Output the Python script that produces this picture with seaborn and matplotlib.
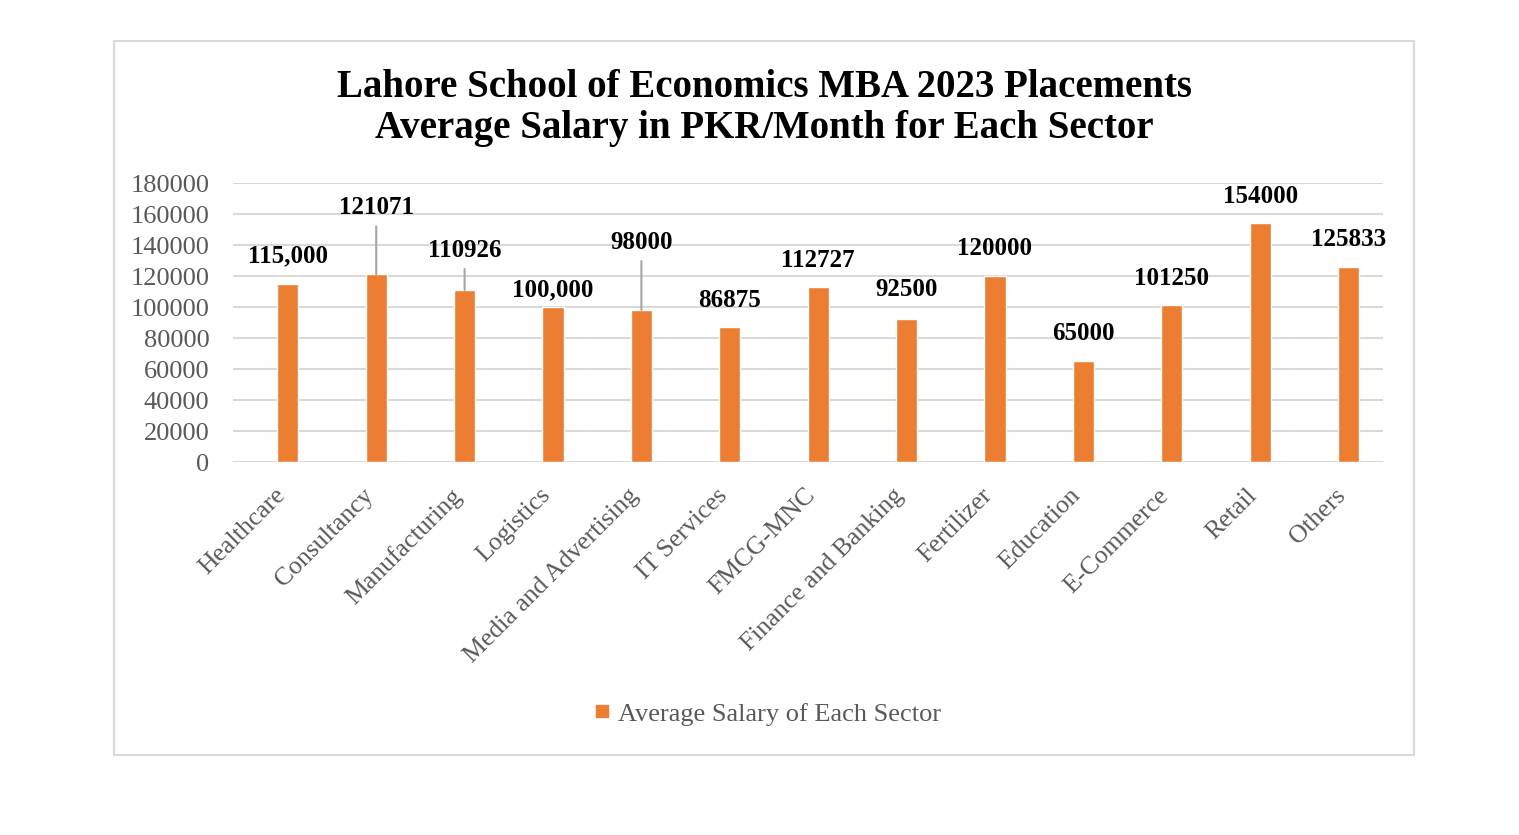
import matplotlib
matplotlib.use("Agg")
import matplotlib.pyplot as plt
import matplotlib.transforms as mtransforms
import seaborn as sns
import pandas as pd
from matplotlib.lines import Line2D
from matplotlib.patches import Rectangle

# data
sectors = ["Healthcare", "Consultancy", "Manufacturing", "Logistics",
           "Media and Advertising", "IT Services", "FMCG-MNC",
           "Finance and Banking", "Fertilizer", "Education",
           "E-Commerce", "Retail", "Others"]
salaries = [115000, 121071, 110926, 100000, 98000, 86875, 112727,
            92500, 120000, 65000, 101250, 154000, 125833]
value_labels = ["115,000", "121071", "110926", "100,000", "98000", "86875",
                "112727", "92500", "120000", "65000", "101250", "154000",
                "125833"]
# how far (pixels) each label sits above its bar, some were dragged up in the original
label_lift = [28, 67, 40, 17, 68, 27, 27, 29, 28, 28, 27, 27, 27]
has_leader = [False, True, True, False, True, False, False, False,
              False, False, False, False, False]

df = pd.DataFrame({"Sector": sectors, "Salary": salaries})

sns.set_theme(style="white")
plt.rcParams["font.family"] = ["Liberation Serif", "DejaVu Serif"]

orange = "#ED7D31"
grid_gray = "#D9D9D9"
text_gray = "#595959"

fig = plt.figure(figsize=(15.19, 8.35), dpi=100)
ax = fig.add_axes([0.1534, 0.4467, 0.7571, 0.3341])

sns.barplot(data=df, x="Sector", y="Salary", color=orange, saturation=1,
            width=0.24, ax=ax)

ax.set_ylim(0, 180000)
ax.set_xlim(-0.62, 12.39)
ax.set_yticks(range(0, 180001, 20000))
ax.yaxis.grid(True, color=grid_gray, linewidth=1.5)
ax.set_axisbelow(True)
for s in ax.spines.values():
    s.set_visible(False)
ax.set_xlabel("")
ax.set_ylabel("")
ax.tick_params(axis="y", labelsize=19, labelcolor=text_gray, length=0, pad=17)
ax.tick_params(axis="x", labelsize=18.5, labelcolor=text_gray, length=0, pad=6)

# rotated category labels, nudged left/down like the original
shift = mtransforms.ScaledTranslation(-0.14, -0.14, fig.dpi_scale_trans)
for t in ax.get_xticklabels():
    t.set_rotation(45)
    t.set_ha("right")
    t.set_rotation_mode("anchor")
    t.set_transform(t.get_transform() + shift)

# data labels, with grey leader lines where the label was moved
for i, (v, lab, lift, lead) in enumerate(zip(salaries, value_labels, label_lift, has_leader)):
    arrow = None
    if lead:
        arrow = dict(arrowstyle="-", color="#A6A6A6", lw=1.5,
                     shrinkA=3, shrinkB=0, relpos=(0.5, 0))
    ax.annotate(lab, xy=(i, v), xytext=(0, lift), textcoords="offset pixels",
                ha="center", va="center", fontsize=18, fontweight="bold",
                color="black", arrowprops=arrow)

fig.text(0.503, 0.871, "Lahore School of Economics MBA 2023 Placements\n"
         "Average Salary in PKR/Month for Each Sector",
         ha="center", va="center", fontsize=28, fontweight="bold",
         color="black", linespacing=1.15)

handle = Line2D([], [], marker="s", linestyle="", color=orange, markersize=9)
fig.legend([handle], ["Average Salary of Each Sector"], loc="center",
           bbox_to_anchor=(0.503, 0.145), frameon=False, fontsize=19,
           labelcolor=text_gray, handletextpad=0.0, handlelength=1.2)

# thin grey chart border
fig.patches.append(Rectangle((114 / 1519, 1 - 755 / 835), 1300 / 1519, 714 / 835,
                             transform=fig.transFigure, fill=False,
                             edgecolor=grid_gray, linewidth=1.5))

fig.savefig("out.png", dpi=100, facecolor="white")
